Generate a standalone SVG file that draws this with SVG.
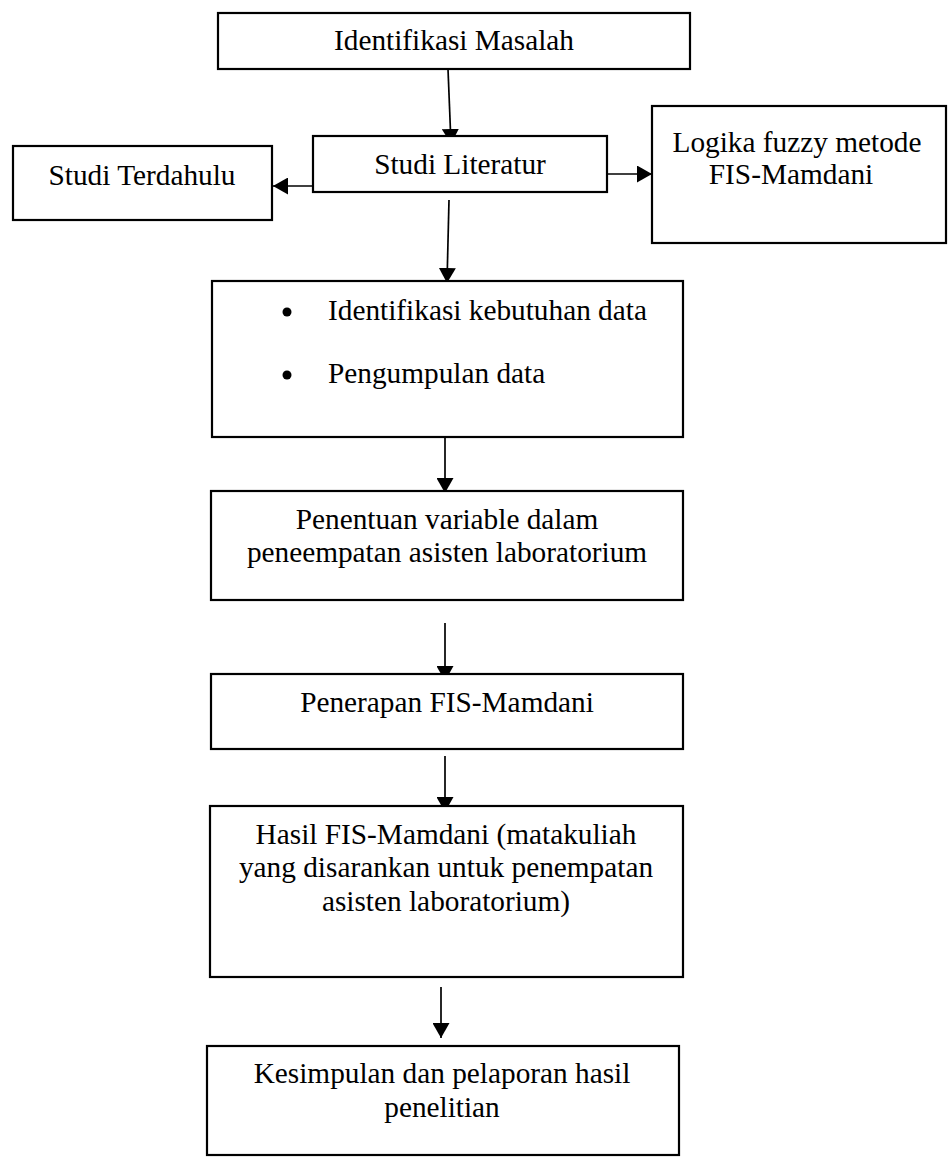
<svg xmlns="http://www.w3.org/2000/svg" width="948" height="1160" viewBox="0 0 948 1160">
  <style>
    .box { fill: #ffffff; stroke: #000000; stroke-width: 2.2; }
    .lbl { font-family: "Liberation Serif", "Times New Roman", serif; font-size: 29.3px; fill: #000000; }
    .mid { text-anchor: middle; }
    .conn { stroke: #000000; stroke-width: 1.7; fill: none; marker-end: url(#arrow); }
  </style>
  <defs>
    <marker id="arrow" markerUnits="userSpaceOnUse" markerWidth="16" markerHeight="17" refX="15" refY="8.5" orient="auto">
      <path d="M0,0 L15,8.5 L0,17 z" fill="#000000"/>
    </marker>
  </defs>
  <rect width="948" height="1160" fill="#ffffff"/>

  <!-- connectors -->
  <g id="connectors">
    <line class="conn" x1="448" y1="69" x2="451" y2="144"/>
    <line class="conn" x1="313" y1="186" x2="273" y2="186"/>
    <line class="conn" x1="607" y1="174" x2="652" y2="174"/>
    <line class="conn" x1="449" y1="200" x2="447" y2="283"/>
    <line class="conn" x1="445" y1="437" x2="445" y2="493"/>
    <line class="conn" x1="445" y1="623" x2="445" y2="681"/>
    <line class="conn" x1="445" y1="756" x2="445" y2="812"/>
    <line class="conn" x1="441" y1="987" x2="441" y2="1038"/>
  </g>

  <g id="identifikasi-masalah">
    <rect class="box" x="218" y="13" width="472" height="56"/>
    <text class="lbl mid" x="454" y="50">Identifikasi Masalah</text>
  </g>

  <g id="studi-literatur">
    <rect class="box" x="313" y="136" width="294" height="56"/>
    <text class="lbl mid" x="460" y="174">Studi Literatur</text>
  </g>

  <g id="studi-terdahulu">
    <rect class="box" x="13" y="146" width="259" height="74"/>
    <text class="lbl mid" x="142" y="185">Studi Terdahulu</text>
  </g>

  <g id="logika-fuzzy">
    <rect class="box" x="652" y="106" width="294" height="137"/>
    <text class="lbl mid" x="797" y="152">Logika fuzzy metode</text>
    <text class="lbl mid" x="791" y="184">FIS-Mamdani</text>
  </g>

  <g id="kebutuhan-data">
    <rect class="box" x="212" y="281" width="471" height="156"/>
    <circle cx="287" cy="312" r="4.5" fill="#000000"/>
    <text class="lbl" x="328" y="320">Identifikasi kebutuhan data</text>
    <circle cx="287" cy="375" r="4.5" fill="#000000"/>
    <text class="lbl" x="328" y="383">Pengumpulan data</text>
  </g>

  <g id="penentuan-variable">
    <rect class="box" x="211" y="491" width="472" height="109"/>
    <text class="lbl mid" x="447" y="529">Penentuan variable dalam</text>
    <text class="lbl mid" x="447" y="562">peneempatan asisten laboratorium</text>
  </g>

  <g id="penerapan-fis">
    <rect class="box" x="211" y="674" width="472" height="75"/>
    <text class="lbl mid" x="447" y="712">Penerapan FIS-Mamdani</text>
  </g>

  <g id="hasil-fis">
    <rect class="box" x="210" y="806" width="473" height="171"/>
    <text class="lbl mid" x="446" y="844">Hasil FIS-Mamdani (matakuliah</text>
    <text class="lbl mid" x="446" y="877">yang disarankan untuk penempatan</text>
    <text class="lbl mid" x="446" y="911">asisten laboratorium)</text>
  </g>

  <g id="kesimpulan">
    <rect class="box" x="207" y="1046" width="472" height="109"/>
    <text class="lbl mid" x="442" y="1083">Kesimpulan dan pelaporan hasil</text>
    <text class="lbl mid" x="442" y="1117">penelitian</text>
  </g>
</svg>
